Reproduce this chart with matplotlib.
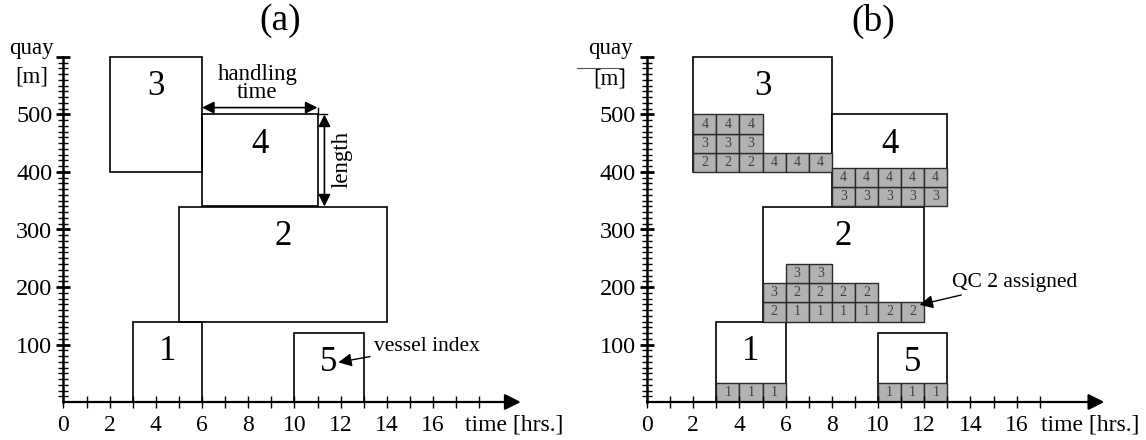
import numpy as np
import matplotlib
matplotlib.use("Agg")
import matplotlib.pyplot as plt
from matplotlib.patches import Rectangle

plt.rcParams['font.family'] = ['Liberation Serif', 'DejaVu Serif']

# vessels: quay position [m] and berthing windows [hrs]
vessel_id = [1, 2, 3, 4, 5]
quay_lo = [0, 140, 400, 340, 0]
quay_hi = [140, 340, 600, 500, 120]
start_a = [3, 5, 2, 6, 10]
end_a = [6, 14, 6, 11, 13]
start_b = [3, 5, 2, 8, 10]
end_b = [6, 12, 8, 13, 13]

# QC numbers per hour in (b), bottom row first, 0 = no crane
qc_v1 = [[1, 1, 1]]
qc_v2 = [[2, 1, 1, 1, 1, 2, 2], [3, 2, 2, 2, 2], [0, 3, 3]]
qc_v3 = [[2, 2, 2, 4, 4, 4], [3, 3, 3], [4, 4, 4]]
qc_v4 = [[3, 3, 3, 3, 3], [4, 4, 4, 4, 4]]
qc_v5 = [[1, 1, 1]]
qc_rows = [qc_v1, qc_v2, qc_v3, qc_v4, qc_v5]
row_h = 100 / 3.

ytick_vals = [100, 200, 300, 400, 500, 600]
ytick_labels = ['100', '200', '300', '400', '500', '']
xtick_vals = [0, 2, 4, 6, 8, 10, 12, 14, 16]
xtick_labels = ['0', '2', '4', '6', '8', '10', '12', '14', '16']

W, H = 1146, 440
fig = plt.figure(figsize=(W / 100, H / 100), dpi=100)
px_hr = 23.1
px_m = 0.575
xmax, ymax = 21, 640


def make_ax(left_px, last_tick, time_x):
    ax = fig.add_axes([left_px / W, 38 / H, xmax * px_hr / W, ymax * px_m / H])
    ax.set_xlim(0, xmax)
    ax.set_ylim(0, ymax)
    for s in ['top', 'right', 'bottom']:
        ax.spines[s].set_visible(False)
    ax.spines['left'].set_bounds(0, 600)
    ax.spines['left'].set_linewidth(1.8)
    ax.set_yticks(ytick_vals)
    ax.set_yticklabels(ytick_labels)
    ax.set_yticks(np.arange(10, 600, 10), minor=True)
    ax.tick_params(axis='y', which='major', direction='inout', length=10, width=2, labelsize=17.5, pad=3)
    ax.tick_params(axis='y', which='minor', direction='inout', length=7, width=1)
    ax.set_xticks(xtick_vals)
    ax.set_xticklabels(xtick_labels)
    ax.set_xticks(np.arange(1, last_tick + 1), minor=True)
    ax.tick_params(axis='x', which='both', direction='inout', length=8, width=1, labelsize=17, pad=5)
    ax.annotate('', xy=(19.8, 0), xytext=(0, 0), annotation_clip=False,
                arrowprops=dict(arrowstyle='-|>', lw=1.6, color='black', mutation_scale=24,
                                shrinkA=0, shrinkB=0))
    ax.text(time_x, -40, 'time [hrs.]', ha='center', va='center', fontsize=17)
    return ax


def draw_vessels(ax, starts, ends, fill):
    for v, s, e, lo, hi in zip(vessel_id, starts, ends, quay_lo, quay_hi):
        ax.add_patch(Rectangle((s, lo), e - s, hi - lo, fc='white' if fill else 'none',
                               ec='black', lw=1.2))
        ax.text((s + e) / 2, hi - 52, str(v), ha='center', va='center', fontsize=25)


# (a)
ax1 = make_ax(63.4, 18, 19.5)
draw_vessels(ax1, start_a, end_a, False)
ax1.text(-1.38, 615, 'quay', ha='center', va='center', fontsize=16.5)
ax1.text(-1.38, 565, '[m]', ha='center', va='center', fontsize=16.5)
arr = dict(arrowstyle='<|-|>', lw=1.2, color='black', mutation_scale=18, shrinkA=0, shrinkB=0)
ax1.annotate('', xy=(6, 512), xytext=(11, 512), arrowprops=arr)
ax1.plot([11, 11], [500, 512], color='black', lw=1.0)
ax1.plot([11, 11.4], [500, 500], color='black', lw=1.0)
ax1.text(8.4, 554, 'handling\ntime', ha='center', va='center', fontsize=16.5, linespacing=0.8)
ax1.annotate('', xy=(11.3, 500), xytext=(11.3, 340), arrowprops=arr)
ax1.text(12.05, 421, 'length', ha='center', va='center', fontsize=16.5, rotation=90)
ax1.annotate('vessel index', xy=(11.9, 69), xytext=(13.45, 97), ha='left', va='center', fontsize=15.5,
             arrowprops=dict(arrowstyle='-|>', lw=1.0, color='black', mutation_scale=20,
                             shrinkA=1, shrinkB=0))

# (b)
ax2 = make_ax(647, 17, 19.2)
draw_vessels(ax2, start_b, end_b, True)
for rows, s, lo in zip(qc_rows, start_b, quay_lo):
    for i, row in enumerate(rows):
        for j, q in enumerate(row):
            if q == 0:
                continue
            y0 = lo + i * row_h
            ax2.add_patch(Rectangle((s + j, y0), 1, row_h, fc='#b2b2b2', ec='#2a2a2a', lw=1.0))
            ax2.text(s + j + 0.5, y0 + row_h / 2, str(q), ha='center', va='center',
                     fontsize=10, color='#404040')
ax2.text(-1.6, 615, 'quay', ha='center', va='center', fontsize=16.5)
ax2.text(-1.6, 562, '[m]', ha='center', va='center', fontsize=16.5)
ax2.plot([-3.05, -1.05], [580, 580], color='#555555', lw=0.8, clip_on=False)
ax2.annotate('QC 2 assigned', xy=(11.8, 169), xytext=(13.2, 208), ha='left', va='center', fontsize=15.5,
             arrowprops=dict(arrowstyle='-|>', lw=1.0, color='black', mutation_scale=20,
                             shrinkA=1, shrinkB=0))

fig.text(280 / W, 1 - 21 / H, '(a)', ha='center', va='center', fontsize=27)
fig.text(873 / W, 1 - 21 / H, '(b)', ha='center', va='center', fontsize=27)

fig.savefig('out.png', dpi=100)
